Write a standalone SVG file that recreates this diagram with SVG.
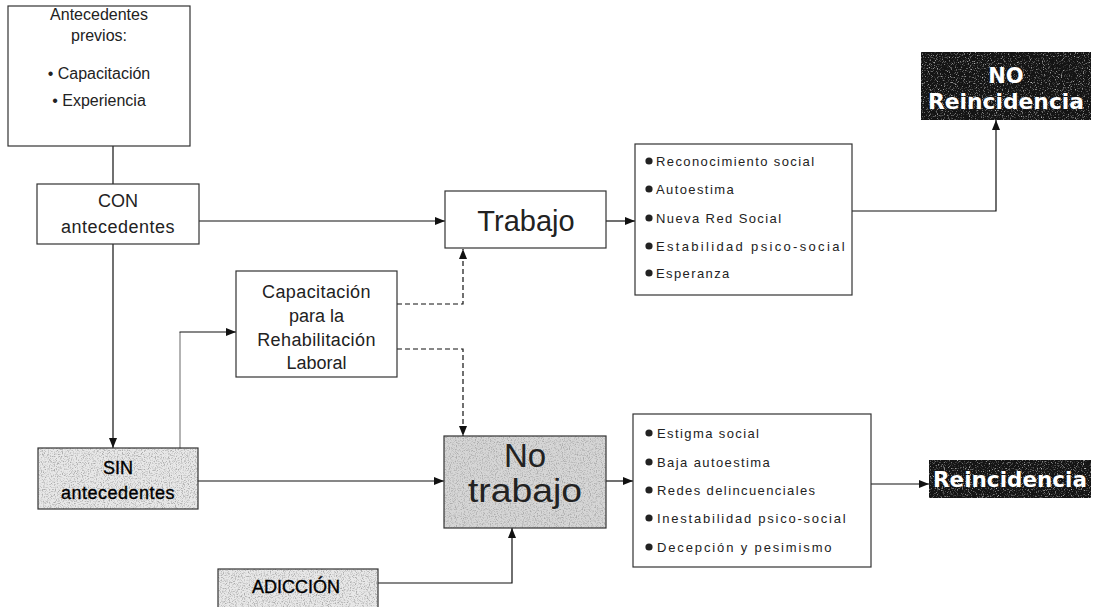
<svg xmlns="http://www.w3.org/2000/svg" width="1093" height="607" viewBox="0 0 1093 607">
  <style>
    .box { fill: #ffffff; stroke: #333333; stroke-width: 1.2; }
    .lbl { font-family: "Liberation Sans", Arial, sans-serif; fill: #222222; text-anchor: middle; }
    .dark { font-family: "Liberation Sans", Arial, sans-serif; fill: #000000; stroke: #000000; stroke-width: 0.35; text-anchor: middle; }
    .item { font-family: "Liberation Sans", Arial, sans-serif; font-size: 13px; letter-spacing: 1.4px; fill: #222222; }
    .bul { fill: #222222; }
    .big { font-family: "DejaVu Sans", "Liberation Sans", sans-serif; font-weight: bold; font-size: 21px; fill: #ffffff; text-anchor: middle; }
    .wire { fill: none; stroke: #111111; stroke-width: 1.2; }
    .dash { fill: none; stroke: #111111; stroke-width: 1.2; stroke-dasharray: 5 3; }
    .grey { fill: none; stroke: #9a9a9a; stroke-width: 1.5; }
  </style>
  <defs>
    <marker id="arrow" markerUnits="userSpaceOnUse" markerWidth="10" markerHeight="8" refX="10" refY="4" orient="auto">
      <path d="M0,0 L10,4 L0,8 Z" fill="#111111"/>
    </marker>
    <!-- speckled texture: dark dots -->
    <filter id="speckDark" x="0" y="0" width="100%" height="100%">
      <feTurbulence type="fractalNoise" baseFrequency="0.85" numOctaves="2" seed="4" result="n"/>
      <feColorMatrix in="n" type="matrix" values="0 0 0 0 0.4  0 0 0 0 0.4  0 0 0 0 0.4  3.2 0 0 0 -1.5"/>
    </filter>
    <!-- speckled texture: light dots on black -->
    <filter id="speckLight" x="0" y="0" width="100%" height="100%">
      <feTurbulence type="fractalNoise" baseFrequency="0.85" numOctaves="2" seed="9" result="n"/>
      <feColorMatrix in="n" type="matrix" values="0 0 0 0 0.55  0 0 0 0 0.55  0 0 0 0 0.55  3.2 0 0 0 -1.75"/>
    </filter>
  </defs>

  <!-- connectors -->
  <g id="connectors">
    <path class="wire" d="M113,146 V184"/>
    <path class="wire" d="M199,221 H445" marker-end="url(#arrow)"/>
    <path class="wire" d="M113,244 V448" marker-end="url(#arrow)"/>
    <path class="grey" d="M180,448 V332"/>
    <path class="wire" d="M179.5,332 H236" marker-end="url(#arrow)"/>
    <path class="wire" d="M198,481 H444" marker-end="url(#arrow)"/>
    <path class="dash" d="M397,304 H463 V249" marker-end="url(#arrow)"/>
    <path class="dash" d="M397,349 H463 V436" marker-end="url(#arrow)"/>
    <path class="wire" d="M378,583 H512 V528" marker-end="url(#arrow)"/>
    <path class="wire" d="M606,221 H635" marker-end="url(#arrow)"/>
    <path class="wire" d="M606,481 H633" marker-end="url(#arrow)"/>
    <path class="wire" d="M852,211 H996 V120" marker-end="url(#arrow)"/>
    <path class="wire" d="M871,484 H929" marker-end="url(#arrow)"/>
  </g>

  <g id="antecedentes-previos">
    <rect class="box" x="8" y="6" width="182" height="140"/>
    <text class="lbl" font-size="16" x="99" y="20">Antecedentes</text>
    <text class="lbl" font-size="16" x="99" y="41">previos:</text>
    <text class="lbl" font-size="16" x="99" y="79">• Capacitación</text>
    <text class="lbl" font-size="16" x="99" y="106">• Experiencia</text>
  </g>

  <g id="con-antecedentes">
    <rect class="box" x="37" y="184" width="162" height="60"/>
    <text class="lbl" font-size="18" x="118" y="207">CON</text>
    <text class="lbl" font-size="18" letter-spacing="0.5" x="118" y="233">antecedentes</text>
  </g>

  <g id="capacitacion">
    <rect class="box" x="236" y="271" width="161" height="106"/>
    <text class="lbl" font-size="18" letter-spacing="0.4" x="316.5" y="298">Capacitación</text>
    <text class="lbl" font-size="18" x="316.5" y="322">para la</text>
    <text class="lbl" font-size="18" letter-spacing="0.4" x="316.5" y="346">Rehabilitación</text>
    <text class="lbl" font-size="18" x="316.5" y="369">Laboral</text>
  </g>

  <g id="sin-antecedentes">
    <rect x="38" y="448" width="160" height="61" fill="#e8e8e8"/>
    <rect x="38" y="448" width="160" height="61" filter="url(#speckDark)"/>
    <rect x="38" y="448" width="160" height="61" fill="none" stroke="#333333" stroke-width="1.2"/>
    <text class="dark" font-size="18" x="118" y="474">SIN</text>
    <text class="dark" font-size="18" letter-spacing="0.5" x="118" y="499">antecedentes</text>
  </g>

  <g id="adiccion">
    <rect x="218" y="569" width="160" height="40" fill="#e8e8e8"/>
    <rect x="218" y="569" width="160" height="40" filter="url(#speckDark)"/>
    <rect x="218" y="569" width="160" height="40" fill="none" stroke="#333333" stroke-width="1.2"/>
    <text class="dark" font-size="18" x="296" y="593">ADICCIÓN</text>
  </g>

  <g id="trabajo">
    <rect class="box" x="445" y="191" width="161" height="57"/>
    <text class="lbl" font-size="29" x="526" y="231">Trabajo</text>
  </g>

  <g id="no-trabajo">
    <rect x="444" y="436" width="162" height="92" fill="#d6d6d6"/>
    <rect x="444" y="436" width="162" height="92" filter="url(#speckDark)"/>
    <rect x="444" y="436" width="162" height="92" fill="none" stroke="#333333" stroke-width="1.2"/>
    <text class="lbl" font-size="33" fill="#111111" x="525" y="467">No</text>
    <text class="lbl" font-size="33" fill="#111111" x="525" y="502" textLength="114" lengthAdjust="spacingAndGlyphs">trabajo</text>
  </g>

  <g id="efectos-trabajo">
    <rect class="box" x="635" y="144" width="217" height="151"/>
    <circle class="bul" cx="649" cy="161" r="3.6"/>
    <text class="item" x="656" y="166">Reconocimiento social</text>
    <circle class="bul" cx="649" cy="189" r="3.6"/>
    <text class="item" x="656" y="194">Autoestima</text>
    <circle class="bul" cx="649" cy="218" r="3.6"/>
    <text class="item" x="656" y="223">Nueva Red Social</text>
    <circle class="bul" cx="649" cy="246" r="3.6"/>
    <text class="item" x="656" y="251" textLength="190" lengthAdjust="spacing">Estabilidad psico-social</text>
    <circle class="bul" cx="649" cy="273" r="3.6"/>
    <text class="item" x="656" y="278">Esperanza</text>
  </g>

  <g id="efectos-no-trabajo">
    <rect class="box" x="633" y="414" width="238" height="153"/>
    <circle class="bul" cx="649" cy="433" r="3.6"/>
    <text class="item" x="657" y="438">Estigma social</text>
    <circle class="bul" cx="649" cy="462" r="3.6"/>
    <text class="item" x="657" y="467">Baja autoestima</text>
    <circle class="bul" cx="649" cy="490" r="3.6"/>
    <text class="item" x="657" y="495">Redes delincuenciales</text>
    <circle class="bul" cx="649" cy="518" r="3.6"/>
    <text class="item" x="657" y="523" textLength="190" lengthAdjust="spacing">Inestabilidad psico-social</text>
    <circle class="bul" cx="649" cy="547" r="3.6"/>
    <text class="item" x="657" y="552" textLength="176" lengthAdjust="spacing">Decepción y pesimismo</text>
  </g>

  <g id="no-reincidencia">
    <rect x="921" y="52" width="170" height="68" fill="#141414"/>
    <rect x="921" y="52" width="170" height="68" filter="url(#speckLight)"/>
    <text class="big" x="1006" y="83">NO</text>
    <text class="big" x="1006" y="109" textLength="156" lengthAdjust="spacingAndGlyphs">Reincidencia</text>
  </g>

  <g id="reincidencia">
    <rect x="929" y="460" width="162" height="38" fill="#141414"/>
    <rect x="929" y="460" width="162" height="38" filter="url(#speckLight)"/>
    <text class="big" x="1010" y="487" textLength="154" lengthAdjust="spacingAndGlyphs">Reincidencia</text>
  </g>
</svg>
